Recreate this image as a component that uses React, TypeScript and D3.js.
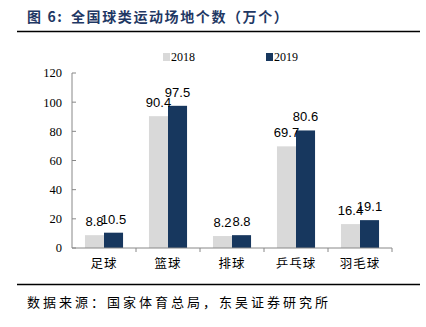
import React from "react";
import * as d3 from "d3";

const categories = ["足球", "篮球", "排球", "乒乓球", "羽毛球"];
const series2018 = [8.8, 90.4, 8.2, 69.7, 16.4];
const series2019 = [10.5, 97.5, 8.8, 80.6, 19.1];
const seriesNames = ["2018", "2019"];
const yTicks = [0, 20, 40, 60, 80, 100, 120];

const W = 426, H = 327;
const left = 72, right = 392, top = 73, bottom = 248;
const colors = ["#D9D9D9", "#17375E"];
const CJK = "'Noto Sans CJK SC', sans-serif";

export default function App() {
  const x = d3.scaleBand<string>().domain(categories).range([left, right]).paddingInner(0).paddingOuter(0);
  const inner = d3.scaleBand<string>().domain(seriesNames).range([0, x.bandwidth()]).paddingOuter(0.68).paddingInner(0);
  const y = d3.scaleLinear().domain([0, 120]).range([bottom, top]);
  const data = [series2018, series2019];

  return (
    <svg width={W} height={H} style={{ position: "absolute", left: 0, top: 0 }}>
      <rect width={W} height={H} fill="#fff" />
      <text x={27} y={22} fontFamily={CJK} fontWeight="bold" fontSize={14} fill="#1F3864" letterSpacing={1.6}>
        <tspan>图 6:</tspan>
        <tspan x={71}>全国球类运动场地个数（万个）</tspan>
      </text>
      <line x1={17} x2={420} y1={31.5} y2={31.5} stroke="#000" strokeWidth={1.5} />

      {/* legend */}
      {seriesNames.map((s, i) => {
        const lx = i === 0 ? 163 : 266;
        return (
          <g key={s}>
            <rect x={lx} y={53} width={7} height={8} fill={colors[i]} />
            <text x={lx + 8} y={61} fontFamily="'Liberation Serif', serif" fontSize={12} fill="#000">{s}</text>
          </g>
        );
      })}

      {/* y axis */}
      <line x1={left} x2={left} y1={top} y2={bottom} stroke="#888" strokeWidth={1} />
      {yTicks.map((t) => (
        <g key={t}>
          <line x1={left} x2={left + 4} y1={y(t)} y2={y(t)} stroke="#888" />
          <text x={62} y={y(t)} dy="0.35em" textAnchor="end" fontFamily="'Liberation Serif', serif" fontSize={12.5} fill="#000">{t}</text>
        </g>
      ))}

      {/* bars */}
      {categories.map((c, ci) => (
        <g key={c}>
          {data.map((arr, si) => {
            const bx = (x(c) as number) + (inner(seriesNames[si]) as number);
            const bw = inner.bandwidth();
            return <rect key={si} x={bx} y={y(arr[ci])} width={bw} height={bottom - y(arr[ci])} fill={colors[si]} />;
          })}
        </g>
      ))}

      {/* x axis */}
      <line x1={left} x2={right} y1={bottom} y2={bottom} stroke="#888" strokeWidth={1} />
      {categories.map((c, i) => (
        <line key={"t" + i} x1={(x(c) as number) + x.bandwidth()} x2={(x(c) as number) + x.bandwidth()} y1={bottom} y2={bottom + 4} stroke="#888" />
      ))}

      {/* data labels */}
      {categories.map((c, ci) => (
        <g key={"l" + c}>
          {data.map((arr, si) => {
            const cx = (x(c) as number) + (inner(seriesNames[si]) as number) + inner.bandwidth() / 2;
            return (
              <text key={si} x={cx} y={y(arr[ci]) - 9} textAnchor="middle" fontFamily="'Liberation Sans', Arial, sans-serif" fontSize={13} fill="#000">
                {arr[ci]}
              </text>
            );
          })}
        </g>
      ))}

      {/* category labels */}
      {categories.map((c) => (
        <text key={"c" + c} x={(x(c) as number) + x.bandwidth() / 2} y={268} textAnchor="middle" fontFamily={CJK} fontSize={12.5} fill="#000" letterSpacing={1}>{c}</text>
      ))}

      <line x1={17} x2={420} y1={284.5} y2={284.5} stroke="#000" strokeWidth={1.5} />
      <text x={27} y={307} fontFamily={CJK} fontSize={13} fill="#000" letterSpacing={3}>数据来源：国家体育总局，东吴证券研究所</text>
    </svg>
  );
}
